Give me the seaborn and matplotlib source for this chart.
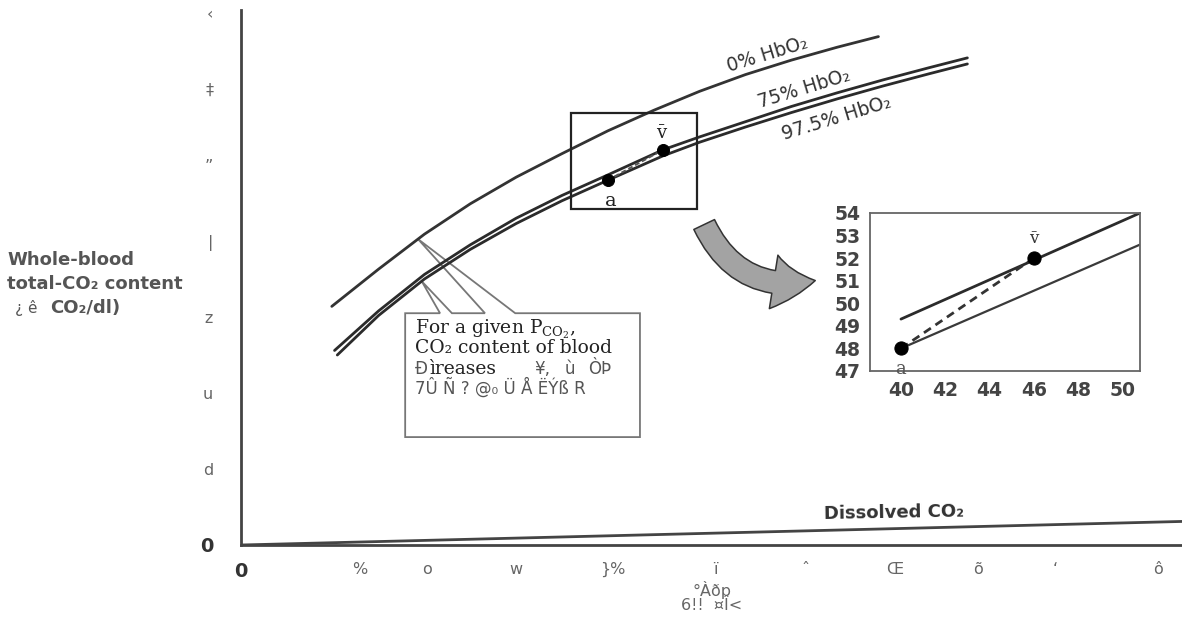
import numpy as np
import pandas as pd
import matplotlib
matplotlib.use("Agg")
import matplotlib.pyplot as plt
import seaborn as sns
from matplotlib.patches import Polygon, Rectangle, FancyArrowPatch, ArrowStyle

# ---- data -------------------------------------------------------------
pco2_0 = [9.9, 15, 20, 25, 30, 35, 40, 45, 50, 55, 60, 65, 69.5]
co2_0 = [31.4, 36.3, 40.9, 44.9, 48.4, 51.5, 54.5, 57.2, 59.7, 61.9, 63.8, 65.5, 66.9]

pco2_75 = [10.2, 15, 20, 25, 30, 35, 40, 46, 50, 55, 60, 65, 70, 75, 79.2]
co2_75 = [25.6, 30.8, 35.6, 39.5, 43.0, 46.0, 48.7, 52.0, 53.7, 55.7, 57.7, 59.5, 61.2, 62.8, 64.1]

pco2_975 = [10.5, 15, 20, 25, 30, 35, 40, 46, 50, 55, 60, 65, 70, 75, 79.2]
co2_975 = [25.0, 30.2, 35.0, 38.9, 42.3, 45.3, 48.0, 51.2, 53.0, 55.0, 56.9, 58.7, 60.4, 62.0, 63.3]

pco2_diss = [0, 102.6]
co2_diss = [0, 3.1]

point_names = ["a", "v\u0304"]
point_pco2 = [40, 46]
point_co2 = [48, 52]

inset_pco2 = [40, 50.8]
inset_upper = [49.3, 54.0]
inset_lower = [48.0, 52.6]

y_tick_vals = [0, 10, 20, 30, 40, 50, 60, 70]
y_tick_labels = ["0", "d", "u", "z", "|", "\u201d", "\u2021", "\u2039"]
x_tick_pos = [0, 13, 20.3, 30, 40.5, 51.7, 61.5, 71.3, 80.4, 88.8, 100]
x_tick_labels = ["0", "%", "o", "w", "}%", "\u00ef", "\u02c6", "\u0152", "\u00f5", "\u2018", "\u00f4"]

inset_xticks = [40, 42, 44, 46, 48, 50]
inset_yticks = [47, 48, 49, 50, 51, 52, 53, 54]

# ---- style ------------------------------------------------------------
sns.set_theme(style="white")
plt.rcParams["font.family"] = ["DejaVu Sans"]
plt.rcParams["mathtext.fontset"] = "dejavuserif"

W, H = 1182, 628
fig = plt.figure(figsize=(W / 100, H / 100), dpi=100)
fig.patch.set_facecolor("white")


def fx(px):
    return px / W


def fy(py):
    return 1 - py / H


GRAY = "#555555"
DARK = "#2b2b2b"

# ---- main axes --------------------------------------------------------
ax = fig.add_axes([fx(241), fy(545), fx(W) - fx(241), fy(10) - fy(545)])
ax.set_facecolor("white")
ax.set_xlim(0, 102.6)
ax.set_ylim(0, 70.4)
for side in ["top", "right"]:
    ax.spines[side].set_visible(False)
for side in ["left", "bottom"]:
    ax.spines[side].set_color("#444444")
    ax.spines[side].set_linewidth(2)

ax.set_yticks(y_tick_vals)
ax.set_yticklabels(y_tick_labels)
ax.set_xticks(x_tick_pos)
ax.set_xticklabels(x_tick_labels)
ax.tick_params(axis="y", length=0, pad=20, labelsize=11.5, labelcolor="#666666")
ax.tick_params(axis="x", length=0, pad=12, labelsize=11.5, labelcolor="#666666")
for lbl in ax.get_yticklabels() + ax.get_xticklabels():
    if lbl.get_text() == "0":
        lbl.set_fontweight("bold")
        lbl.set_fontsize(14)
        lbl.set_color("#333333")

curves = pd.concat([
    pd.DataFrame({"pco2": pco2_0, "co2": co2_0, "curve": "0%"}),
    pd.DataFrame({"pco2": pco2_75, "co2": co2_75, "curve": "75%"}),
    pd.DataFrame({"pco2": pco2_975, "co2": co2_975, "curve": "97.5%"}),
    pd.DataFrame({"pco2": pco2_diss, "co2": co2_diss, "curve": "dissolved"}),
])
palette = {"0%": "#333333", "75%": DARK, "97.5%": DARK, "dissolved": "#444444"}
sns.lineplot(data=curves, x="pco2", y="co2", hue="curve", palette=palette,
             sort=False, estimator=None, linewidth=2.0, legend=False, ax=ax, zorder=3)
ax.set_xlabel("")
ax.set_ylabel("")

# arterial -> venous path on the curves
ax.plot(point_pco2, point_co2, linestyle=(0, (2.5, 1.5)), color="#555555", lw=1.4, zorder=4)
sns.scatterplot(x=point_pco2, y=point_co2, color="black", s=75, ax=ax, zorder=5,
                edgecolor="black", legend=False)
ax.annotate(point_names[0], (point_pco2[0], point_co2[0]), xytext=(2, -15),
            textcoords="offset points", ha="center", va="center",
            fontsize=14, family="DejaVu Serif", color="#222222")
ax.annotate(point_names[1], (point_pco2[1], point_co2[1]), xytext=(-1, 12),
            textcoords="offset points", ha="center", va="center",
            fontsize=13, family="DejaVu Serif", color="#222222")

# zoom window around a and v
ax.add_patch(Rectangle((36.0, 44.2), 13.7, 12.6, fill=False, edgecolor="#222222",
                       lw=1.6, zorder=6))

# curve labels
lab_kw = dict(rotation=17, rotation_mode="anchor", ha="center", va="center",
              fontsize=13.5, color="#333333")
ax.text(57.4, 64.6, "0% HbO\u2082", **lab_kw)
ax.text(61.4, 60.1, "75% HbO\u2082", **lab_kw)
ax.text(64.9, 56.2, "97.5% HbO\u2082", **lab_kw)
ax.text(63.5, 4.3, "Dissolved CO\u2082", rotation=1, ha="left", va="center",
        fontsize=13, fontweight="bold", color="#333333")

# callout box with two pointers
tip_a_x = 19.3
tip_a_y = float(np.interp(tip_a_x, pco2_0, co2_0))
tip_b_x = 19.7
tip_b_y = float(np.interp(tip_b_x, pco2_975, co2_975))
bx0, bx1, by0, by1 = 17.9, 43.5, 14.2, 30.5
callout = Polygon([
    (bx0, by1), (21.7, by1), (tip_b_x, tip_b_y), (23.0, by1),
    (26.6, by1), (tip_a_x, tip_a_y), (29.9, by1),
    (bx1, by1), (bx1, by0), (bx0, by0)],
    closed=True, facecolor="white", edgecolor="#777777", lw=1.3, zorder=2.5)
ax.add_patch(callout)

serif_kw = dict(family="DejaVu Serif", fontsize=13.5, color="#222222", va="center", ha="left", zorder=7)
sans_kw = dict(family="DejaVu Sans", fontsize=12, color=GRAY, va="center", ha="left", zorder=7)
ax.text(19.0, 28.3, r"For a given P$_{\mathrm{CO_2}}$,", **serif_kw)
ax.text(19.0, 25.9, "CO\u2082 content of blood", **serif_kw)
ax.text(19.0, 23.2, "\u00d0", **sans_kw)
ax.text(20.5, 23.2, "\u00ecreases", **serif_kw)
ax.text(32.0, 23.2, "\u00a5,", **sans_kw)
ax.text(35.3, 23.2, "\u00f9", **sans_kw)
ax.text(37.8, 23.2, "\u00d2\u00de", **sans_kw)
ax.text(19.0, 20.7, "7\u00db \u00d1 ? @\u2080 \u00dc \u00c5 \u00cb\u00dd\u00df R", **sans_kw)

# axis titles
fig.text(fx(7), fy(260), "Whole-blood", fontsize=13, fontweight="bold", color=GRAY,
         ha="left", va="center")
fig.text(fx(7), fy(284), "total-CO\u2082 content", fontsize=13, fontweight="bold", color=GRAY,
         ha="left", va="center")
fig.text(fx(15), fy(308), "\u00bf \u00ea", fontsize=11, color=GRAY, ha="left", va="center")
fig.text(fx(50), fy(308), "CO\u2082/dl)", fontsize=13, fontweight="bold", color=GRAY,
         ha="left", va="center")
fig.text(fx(712), fy(590), "\u00b0\u00c0\u00f0p", fontsize=11.5, color="#666666",
         ha="center", va="center")
fig.text(fx(712), fy(606), "6!!  \u00a4\u00ce<", fontsize=11.5, color="#666666",
         ha="center", va="center")

# ---- inset: magnified a -> v region ---------------------------------------
axin = fig.add_axes([fx(870), fy(371), fx(1140) - fx(870), fy(213) - fy(371)])
axin.set_facecolor("white")
axin.set_xlim(38.6, 50.8)
axin.set_ylim(47, 54)
for side in axin.spines.values():
    side.set_color("#666666")
    side.set_linewidth(1.3)
sns.lineplot(x=inset_pco2, y=inset_upper, color=DARK, lw=2.0, ax=axin)
sns.lineplot(x=inset_pco2, y=inset_lower, color="#3a3a3a", lw=1.6, ax=axin)
axin.plot(point_pco2, point_co2, linestyle=(0, (3, 2)), color="#333333", lw=2.0)
sns.scatterplot(x=point_pco2, y=point_co2, color="black", s=90, ax=axin,
                edgecolor="black", zorder=5, legend=False)
axin.annotate(point_names[0], (point_pco2[0], point_co2[0]), xytext=(0, -15),
              textcoords="offset points", ha="center", va="center",
              fontsize=13, family="DejaVu Serif", color="#555555", annotation_clip=False)
axin.annotate(point_names[1], (point_pco2[1], point_co2[1]), xytext=(0, 14),
              textcoords="offset points", ha="center", va="center",
              fontsize=12, family="DejaVu Serif", color="#333333")
axin.set_xticks(inset_xticks)
axin.set_yticks(inset_yticks)
axin.tick_params(length=0, pad=7, labelsize=13.5, labelcolor="#444444")
for lbl in axin.get_xticklabels() + axin.get_yticklabels():
    lbl.set_fontweight("bold")
axin.set_xlabel("")
axin.set_ylabel("")

# block arrow from the zoom window to the inset
arrow = FancyArrowPatch(
    (fx(703), fy(222)), (fx(818), fy(280)), transform=fig.transFigure,
    connectionstyle="arc3,rad=0.4",
    arrowstyle=ArrowStyle.Simple(head_length=1.0, head_width=1.3, tail_width=0.55),
    mutation_scale=30, facecolor="#a3a3a3", edgecolor="#333333", lw=1.1, zorder=10)
fig.patches.append(arrow)

fig.savefig("out.png", dpi=100, facecolor="white")
